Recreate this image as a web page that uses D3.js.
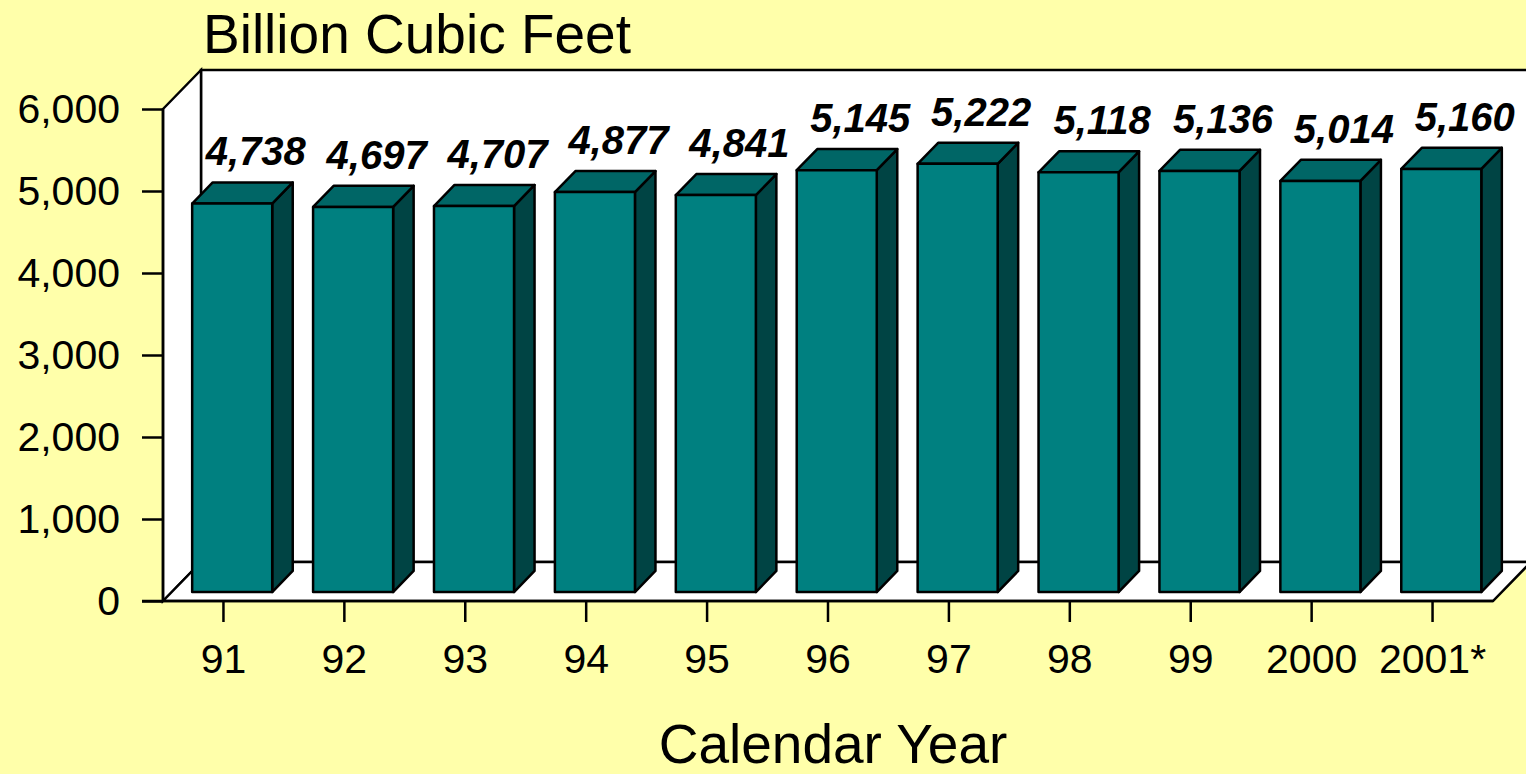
<!DOCTYPE html>
<html>
<head>
    <style>
        body { margin: 0; background: #ffffaa; }
        text { font-family: "Liberation Sans", Arial, sans-serif; fill: #000; }
        .axis text { font-size: 41px; }
        .axis line { stroke: #000; stroke-width: 2.5px; }
        .val { font-size: 40px; font-weight: bold; font-style: italic; text-anchor: middle; }
        .big { font-size: 55px; }
    </style>
    <script src="https://d3js.org/d3.v7.min.js"></script>
</head>
<body>
<svg width="1526" height="774"></svg>
<script>
    var years = ["91", "92", "93", "94", "95", "96", "97", "98", "99", "2000", "2001*"];
    var volumes = [4738, 4697, 4707, 4877, 4841, 5145, 5222, 5118, 5136, 5014, 5160];
    var yTicks = [0, 1000, 2000, 3000, 4000, 5000, 6000];

    var svg = d3.select("svg");

    // front plane of the 3d box, depth offset to the back wall
    var pLeft = 163, pRight = 1493, pTop = 109, pBottom = 601;
    var dx = 38, dy = 39;
    var f1 = 0.23, f2 = 0.77;   // bar front / back depth

    var x = d3.scaleBand().domain(years).range([pLeft, pRight])
        .paddingInner(0.338).paddingOuter(0.169);
    var y = d3.scaleLinear().domain([0, 6000]).range([pBottom, pTop]);

    svg.append("rect").attr("width", 1526).attr("height", 774).attr("fill", "#ffffaa");

    function pts(a) { return a.map(function (p) { return p.join(","); }).join(" "); }

    // walls
    var walls = svg.append("g").attr("fill", "#fff").attr("stroke", "#000").attr("stroke-width", 2.5);
    walls.append("polygon").attr("points", pts([[pLeft + dx, pTop - dy], [pRight + dx + 10, pTop - dy], [pRight + dx + 10, pBottom - dy], [pLeft + dx, pBottom - dy]]));
    walls.append("polygon").attr("points", pts([[pLeft, pTop], [pLeft + dx, pTop - dy], [pLeft + dx, pBottom - dy], [pLeft, pBottom]]));
    walls.append("polygon").attr("points", pts([[pLeft, pBottom], [pLeft + dx, pBottom - dy], [pRight + dx, pBottom - dy], [pRight, pBottom]]));

    // bars
    var bars = svg.append("g").attr("stroke", "#000").attr("stroke-width", 2.5).attr("stroke-linejoin", "round");
    var bw = x.bandwidth();
    years.forEach(function (c, i) {
        var v = volumes[i];
        var x0 = x(c) + f1 * dx, x1 = x0 + bw;
        var yb = y(0) - f1 * dy, yt = y(v) - f1 * dy;
        var ox = (f2 - f1) * dx, oy = (f2 - f1) * dy;
        bars.append("polygon").attr("fill", "#004444")
            .attr("points", pts([[x1, yt], [x1 + ox, yt - oy], [x1 + ox, yb - oy], [x1, yb]]));
        bars.append("polygon").attr("fill", "#006666")
            .attr("points", pts([[x0, yt], [x0 + ox, yt - oy], [x1 + ox, yt - oy], [x1, yt]]));
        bars.append("rect").attr("fill", "#008080")
            .attr("x", x0).attr("y", yt).attr("width", bw).attr("height", yb - yt);
        svg.append("text").attr("class", "val")
            .attr("x", x(c) + bw / 2 + f2 * dx + 3)
            .attr("y", y(v) - f2 * dy - 17)
            .text(d3.format(",")(v));
    });

    // axes
    var ya = svg.append("g").attr("class", "axis")
        .attr("transform", "translate(" + pLeft + ",0)")
        .call(d3.axisLeft(y).tickValues(yTicks).tickSize(21).tickPadding(22).tickFormat(d3.format(",")));
    ya.select(".domain").remove();
    ya.selectAll("text").attr("text-anchor", "end");

    var xa = svg.append("g").attr("class", "axis")
        .attr("transform", "translate(0," + pBottom + ")")
        .call(d3.axisBottom(x).tickSize(21).tickPadding(22));
    xa.select(".domain").remove();

    svg.append("line").attr("x1", pLeft).attr("x2", pLeft).attr("y1", pTop).attr("y2", pBottom)
        .attr("stroke", "#000").attr("stroke-width", 2.5);
    svg.append("line").attr("x1", pLeft - 21).attr("x2", pRight).attr("y1", pBottom).attr("y2", pBottom)
        .attr("stroke", "#000").attr("stroke-width", 2.5);

    svg.append("text").attr("class", "big").attr("x", 203).attr("y", 53).text("Billion Cubic Feet");
    svg.append("text").attr("class", "big").attr("x", 833).attr("y", 763)
        .attr("text-anchor", "middle").text("Calendar Year");
</script>
</body>
</html>
